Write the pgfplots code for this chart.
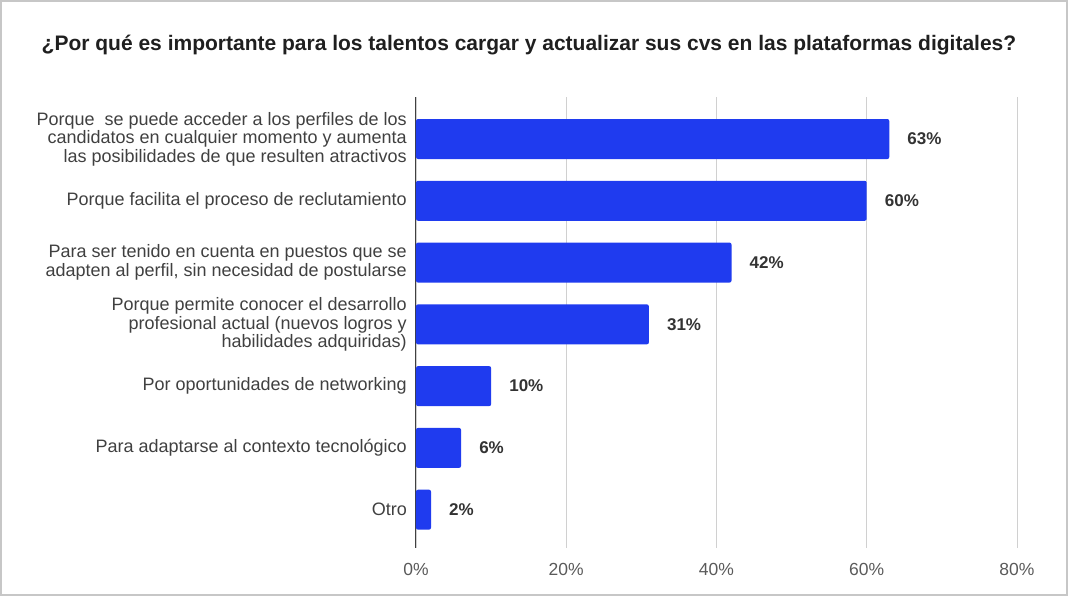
\documentclass[border=0pt]{standalone}
\usepackage{fontspec}
\setmainfont{Liberation Sans}
\usepackage{pgfplots}
\pgfplotsset{compat=1.18}
\definecolor{barblue}{HTML}{1F3BEF}
\definecolor{lbl}{HTML}{404040}
\definecolor{ticktxt}{HTML}{5A5A5A}
\definecolor{gridc}{HTML}{D0D0D0}
\begin{document}
\begin{tikzpicture}[x=1pt,y=1pt]
\useasboundingbox (-416,-48) rectangle (652,548);
\draw[black!22, line width=1.2pt] (-415,-47) rectangle (651,547);
\begin{axis}[
  at={(0,0)}, anchor=south west,
  scale only axis, width=601pt, height=451pt,
  xbar, bar width=40pt,
  xmin=0, xmax=80, ymin=-0.62, ymax=6.68,
  xtick={0,20,40,60,80},
  /pgf/number format/assume math mode=true,
  xticklabel={\pgfmathprintnumber{\tick}\%},
  ytick={0,1,2,3,4,5,6},
  yticklabels={
    Otro,
    Para adaptarse al contexto tecnológico,
    Por oportunidades de networking,
    {Porque permite conocer el desarrollo\\profesional actual (nuevos logros y\\habilidades adquiridas)},
    {Para ser tenido en cuenta en puestos que se\\adapten al perfil, sin necesidad de postularse},
    Porque facilita el proceso de reclutamiento,
    {Porque\ \ se puede acceder a los perfiles de los\\candidatos en cualquier momento y aumenta\\las posibilidades de que resulten atractivos}
  },
  major tick length=0pt,
  axis x line*=bottom, axis y line*=left,
  x axis line style={draw=none},
  y axis line style={draw=black!75, line width=1pt},
  xmajorgrids, grid style={draw=gridc, line width=0.9pt},
  xticklabel style={font=\fontsize{17.5}{18}\selectfont, text=ticktxt, inner sep=0pt, yshift=-15pt},
  yticklabel style={font=\fontsize{18}{18.5}\selectfont, text=lbl, align=right, inner sep=0pt, xshift=-9pt},
  nodes near coords={\pgfplotspointmeta\%},
  point meta=explicit symbolic,
  every node near coord/.append style={font=\bfseries\fontsize{17}{18}\selectfont, text=black!80, anchor=west, inner sep=0pt, xshift=18pt},
]
\addplot[fill=barblue, draw=none, rounded corners=2pt] coordinates {
  (63,6) [63] (60,5) [60] (42,4) [42] (31,3) [31] (10,2) [10] (6,1) [6] (2,0) [2]
};
\end{axis}
\node[font=\bfseries\fontsize{21}{23}\selectfont, text=black!88] at (113,503)
  {¿Por qué es importante para los talentos cargar y actualizar sus cvs en las plataformas digitales?};
\end{tikzpicture}
\end{document}
